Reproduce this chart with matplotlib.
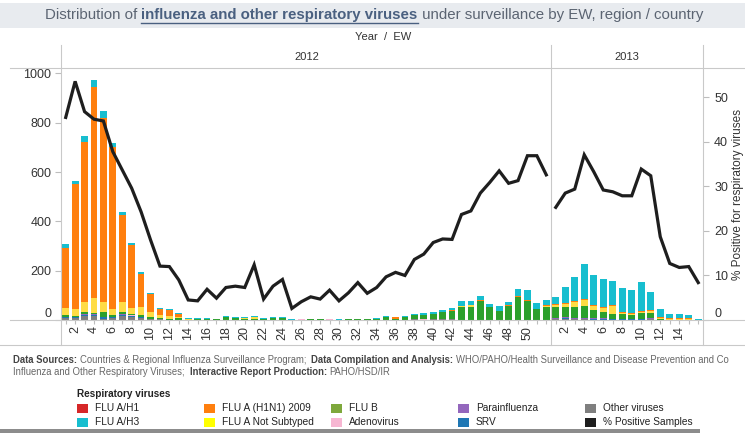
import matplotlib
matplotlib.use('Agg')
import matplotlib.pyplot as plt
from matplotlib import font_manager
from matplotlib.lines import Line2D
from matplotlib.patches import Rectangle

W, H = 745, 433

# weeks shown in each year pane
weeks_2012 = list(range(1, 53))
weeks_2013 = list(range(1, 17))

# stacked counts per week (bottom -> top)
other_2012 = [8, 8, 15, 16, 5, 8, 16, 13, 9, 3, 3, 2, 2, 0, 0, 0, 0, 0, 0, 0,
              0, 0, 0, 0, 0, 0, 0, 0, 0, 0, 0, 0, 0, 0, 2, 0, 0, 3, 2, 3,
              3, 3, 2, 2, 2, 2, 2, 2, 2, 2, 2, 2]
srv_2012 = [4, 3, 5, 4, 6, 6, 4, 2, 2, 1, 0, 0, 0, 0, 0, 0, 0, 0, 0, 0,
            0, 0, 0, 0, 0, 0, 0, 0, 0, 0, 0, 0, 0, 0, 0, 0, 0, 0, 0, 0,
            0, 0, 0, 0, 0, 0, 0, 0, 0, 0, 0, 0]
para_2012 = [2, 2, 5, 3, 0, 0, 5, 1, 2, 2, 0, 0, 0, 0, 0, 0, 0, 0, 0, 0,
             0, 0, 0, 0, 0, 0, 0, 0, 0, 0, 0, 0, 0, 0, 0, 0, 0, 0, 0, 1,
             0, 0, 0, 0, 0, 0, 0, 0, 0, 0, 0, 0]
adeno_2012 = [0, 0, 0, 1, 0, 0, 0, 3, 0, 0, 0, 0, 0, 0, 1, 0, 1, 0, 0, 0,
              0, 0, 0, 0, 0, 3, 2, 0, 3, 0, 0, 0, 0, 0, 0, 0, 0, 0, 3, 0,
              0, 0, 0, 0, 0, 0, 0, 0, 0, 0, 0, 0]
flub_2012 = [5, 5, 6, 6, 23, 6, 9, 5, 6, 5, 4, 4, 7, 2, 2, 3, 2, 12, 9, 6,
             3, 5, 10, 10, 0, 1, 2, 5, 2, 1, 5, 6, 3, 5, 10, 6, 11, 16, 16, 20,
             28, 35, 49, 52, 76, 49, 34, 56, 90, 76, 41, 52]
notsub_2012 = [31, 25, 41, 58, 38, 26, 38, 26, 35, 23, 12, 12, 4, 2, 0, 0, 0, 0, 0, 4,
               8, 0, 0, 0, 0, 0, 2, 0, 0, 0, 0, 0, 0, 0, 0, 0, 0, 0, 0, 0,
               0, 0, 4, 6, 0, 0, 0, 0, 0, 0, 0, 4]
h1n1_2012 = [243, 507, 651, 856, 746, 657, 353, 254, 133, 73, 24, 21, 11, 2, 0, 0, 0, 0, 0, 0,
             0, 0, 0, 0, 0, 0, 0, 0, 0, 0, 0, 0, 3, 0, 0, 5, 0, 1, 1, 2,
             3, 3, 3, 2, 3, 3, 2, 3, 4, 4, 3, 3]
h3_2012 = [15, 15, 25, 30, 31, 16, 12, 7, 6, 4, 4, 4, 3, 3, 6, 6, 2, 4, 3, 2,
           5, 2, 2, 2, 4, 2, 0, 1, 1, 3, 1, 0, 0, 4, 4, 1, 5, 4, 5, 8,
           8, 8, 18, 14, 16, 11, 20, 12, 31, 40, 23, 19]

other_2013 = [3, 4, 3, 3, 2, 2, 2, 2, 2, 2, 3, 1, 0, 0, 0, 0]
srv_2013 = [2, 6, 3, 3, 3, 3, 1, 1, 1, 1, 2, 0, 0, 0, 0, 0]
para_2013 = [2, 4, 3, 3, 2, 2, 1, 1, 1, 1, 4, 1, 0, 0, 0, 0]
adeno_2013 = [0, 0, 0, 0, 0, 0, 0, 0, 0, 0, 0, 0, 0, 0, 0, 0]
flub_2013 = [44, 40, 42, 48, 34, 27, 20, 19, 18, 23, 21, 2, 1, 2, 1, 0]
notsub_2013 = [10, 10, 22, 24, 16, 16, 32, 7, 3, 5, 7, 5, 3, 2, 2, 0]
h1n1_2013 = [4, 4, 4, 3, 4, 4, 4, 4, 2, 4, 4, 5, 5, 5, 5, 0]
h3_2013 = [30, 67, 99, 143, 122, 111, 98, 94, 95, 119, 74, 29, 15, 15, 12, 3]

# % positive samples (right axis)
pct_2012 = [45.5, 53.6, 46.8, 45.1, 44.7, 37.8, 33.7, 29.6, 24.3, 18.0,
            12.1, 12.0, 9.0, 4.5, 4.3, 6.9, 4.9, 7.3, 7.6, 7.3,
            12.4, 4.7, 7.6, 9.1, 2.6, 4.1, 5.2, 4.7, 6.7, 4.3,
            6.1, 8.4, 6.0, 7.3, 9.7, 10.7, 10.0, 13.6, 14.8, 17.4,
            18.2, 18.1, 23.7, 24.5, 28.5, 30.9, 33.5, 30.7, 31.3, 36.9,
            36.9, 32.6]
pct_2013 = [25.3, 28.5, 29.4, 37.1, 33.3, 29.2, 28.8, 27.9, 27.9, 33.9,
            32.4, 18.7, 12.7, 11.8, 12.0, 8.4]

# labelled weeks on the x axis
labels_2012 = list(range(2, 51, 2))
labels_2013 = list(range(2, 15, 2))

bar_colors = ['#7f7f7f', '#1f77b4', '#9467bd', '#f7b6d2', '#2ca02c',
              '#ffdc45', '#ff7f0e', '#17becf']

legend_items = [('FLU A/H1', '#d62728'), ('FLU A/H3', '#17becf'),
                ('FLU A (H1N1) 2009', '#ff7f0e'), ('FLU A Not Subtyped', '#ffff00'),
                ('FLU B', '#7ea83c'), ('Adenovirus', '#f7b6d2'),
                ('Parainfluenza', '#9467bd'), ('SRV', '#1f77b4'),
                ('Other viruses', '#7f7f7f'), ('% Positive Samples', '#1e1e1e')]


def has_font(name):
    try:
        font_manager.findfont(name, fallback_to_default=False)
        return True
    except ValueError:
        return False


base_font = 'Liberation Sans' if has_font('Liberation Sans') else 'DejaVu Sans'
narrow_font = 'Liberation Sans Narrow' if has_font('Liberation Sans Narrow') else base_font
plt.rcParams['font.family'] = [base_font, 'DejaVu Sans']

fig = plt.figure(figsize=(W / 100, H / 100), dpi=100)
renderer = fig.canvas.get_renderer()


def fx(x):
    return x / W


def fy(y):
    return 1 - y / H


def hline(y, x0, x1, color='#c9c9c9', lw=0.8):
    fig.add_artist(Line2D([fx(x0), fx(x1)], [fy(y), fy(y)], color=color, lw=lw,
                          transform=fig.transFigure))


def vline(x, y0, y1, color='#c9c9c9', lw=0.8):
    fig.add_artist(Line2D([fx(x), fx(x)], [fy(y0), fy(y1)], color=color, lw=lw,
                          transform=fig.transFigure))


def text_width(s, **kw):
    t = fig.text(0, 0, s + '|', **kw)
    bar = fig.text(0, 0, '|', **kw)
    w = t.get_window_extent(renderer).width - bar.get_window_extent(renderer).width
    t.remove()
    bar.remove()
    return w


def runs_text(runs, x, y, ha='left'):
    widths = [text_width(s, **kw) for s, kw in runs]
    cur = x - sum(widths) / 2 if ha == 'center' else x
    objs = []
    for (s, kw), w in zip(runs, widths):
        objs.append(fig.text(fx(cur), fy(y), s, va='center', ha='left', **kw))
        cur += w
    return objs


# title band
fig.add_artist(Rectangle((0, fy(28)), 1, fy(3) - fy(28), transform=fig.transFigure,
                         color='#e8ebef', lw=0))
title_runs = [('Distribution of ', dict(color='#5b6472', family=narrow_font)),
              ('influenza and other respiratory viruses',
               dict(color='#4a6080', family=narrow_font, weight='bold')),
              (' under surveillance by EW, region / country', dict(color='#5b6472', family=narrow_font))]
probe = sum(text_width(s, fontsize=10, **kw) for s, kw in title_runs)
tsize = 10 * 661 / probe
title_objs = runs_text([(s, dict(fontsize=tsize, **kw)) for s, kw in title_runs], 374, 15, ha='center')
bb = title_objs[1].get_window_extent(renderer)
fig.add_artist(Line2D([bb.x0 / W, bb.x1 / W], [(bb.y0 - 1) / H] * 2, color='#4a6080', lw=1.0,
                      transform=fig.transFigure))

fig.text(fx(383), fy(37), 'Year  /  EW', ha='center', va='center', fontsize=8, color='#333333')
fig.text(fx(307), fy(57), '2012', ha='center', va='center', fontsize=8, color='#333333')
fig.text(fx(627), fy(57), '2013', ha='center', va='center', fontsize=8, color='#333333')

# table-like grid lines
hline(68, 10, W)
hline(320, 10, W)
hline(345, 0, W)
for xv in (61, 551, 703):
    vline(xv, 45, 345)

top, base = 68, 320
ax1 = fig.add_axes([fx(61), fy(base), (551 - 61) / W, (base - top) / H])
ax2 = fig.add_axes([fx(551), fy(base), (703 - 551) / W, (base - top) / H])

stacks = [
    (ax1, weeks_2012, labels_2012, [other_2012, srv_2012, para_2012, adeno_2012, flub_2012,
                                    notsub_2012, h1n1_2012, h3_2012], pct_2012),
    (ax2, weeks_2013, labels_2013, [other_2013, srv_2013, para_2013, adeno_2013, flub_2013,
                                    notsub_2013, h1n1_2013, h3_2013], pct_2013),
]

twins = []
for ax, weeks, shown, series, pct in stacks:
    bottom = [0] * len(weeks)
    for vals, c in zip(series, bar_colors):
        ax.bar(weeks, vals, bottom=bottom, width=0.72, color=c, linewidth=0)
        bottom = [b + v for b, v in zip(bottom, vals)]
    ax.set_xlim(0.5, len(weeks) + 0.5)
    ax.set_ylim(0, 1022)
    ax.set_xticks(weeks)
    ax.set_xticklabels([str(w) if w in shown else '' for w in weeks])
    ax.tick_params(axis='x', length=3, color='#bdbdbd', pad=1.5, labelsize=9,
                   labelcolor='#333333', labelrotation=90)
    ax.patch.set_alpha(0)
    for s in ax.spines.values():
        s.set_visible(False)

    tw = ax.twinx()
    tw.plot(weeks, pct, color='#1e1e1e', lw=2.3, solid_joinstyle='miter')
    tw.set_ylim(0, 56.6)
    for s in tw.spines.values():
        s.set_visible(False)
    twins.append(tw)

ax1.set_yticks(range(0, 1001, 200))
ax1.tick_params(axis='y', length=4, color='#bdbdbd', labelsize=9, labelcolor='#333333', pad=3)
ax2.set_yticks([])
twins[0].set_yticks([])
twins[1].set_yticks(range(0, 51, 10))
twins[1].tick_params(axis='y', length=4, color='#bdbdbd', labelsize=9, labelcolor='#333333', pad=4)
twins[1].set_ylabel('% Positive for respiratory viruses', fontsize=8.5, color='#333333', labelpad=3)

for lbl in ax1.get_yticklabels() + twins[1].get_yticklabels():
    if lbl.get_text() == '0':
        lbl.set_va('bottom')

# footer
foot_reg = dict(fontsize=6.85, color='#666666', family=narrow_font)
foot_bold = dict(fontsize=6.85, color='#444444', family=narrow_font, weight='bold')
runs_text([('Data Sources: ', foot_bold),
           ('Countries & Regional Influenza Surveillance Program;  ', foot_reg),
           ('Data Compilation and Analysis: ', foot_bold),
           ('WHO/PAHO/Health Surveillance and Disease Prevention and Co', foot_reg)], 13, 360)
runs_text([('Influenza and Other Respiratory Viruses;  ', foot_reg),
           ('Interactive Report Production: ', foot_bold),
           ('PAHO/HSD/IR', foot_reg)], 13, 372)

# legend
fig.text(fx(77), fy(394), 'Respiratory viruses', fontsize=7.2, weight='bold', color='#222222',
         va='center', ha='left')
col_x = [77, 204, 331, 458, 585]
row_y = [408, 422]
for i, (name, c) in enumerate(legend_items):
    x0 = col_x[i // 2]
    y0 = row_y[i % 2]
    fig.add_artist(Rectangle((fx(x0), fy(y0 + 4.5)), 11 / W, 9 / H, transform=fig.transFigure,
                             color=c, lw=0))
    fig.text(fx(x0 + 18), fy(y0), name, fontsize=7.3, color='#222222', va='center', ha='left')

fig.add_artist(Rectangle((0, 0), fx(700), 4 / H, transform=fig.transFigure, color='#8c8c8c', lw=0))

fig.savefig('out.png', dpi=100)
